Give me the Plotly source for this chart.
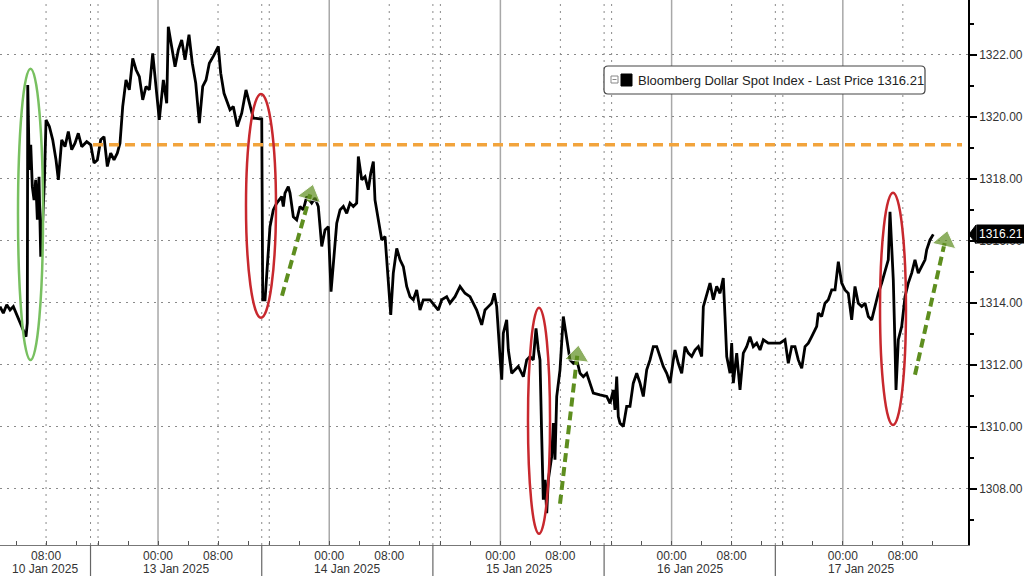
import plotly.graph_objects as go

# ---------------- data ----------------
# (trading-clock hours relative to 13 Jan 00:00, Bloomberg Dollar Spot Index)
bbdxy = [
    (-21.07, 1313.88), (-20.63, 1313.67), (-20.17, 1313.94), (-19.73, 1313.77), (-19.29, 1313.88),
    (-18.84, 1313.61), (-18.40, 1313.35), (-17.87, 1313.07), (-17.60, 1312.91), (-17.43, 1313.35),
    (-17.37, 1321.03), (-17.16, 1318.29), (-16.97, 1319.10), (-16.76, 1317.75), (-16.53, 1317.32),
    (-16.31, 1317.97), (-16.09, 1316.68), (-15.87, 1318.07), (-15.64, 1315.49), (-15.37, 1316.68),
    (-15.16, 1317.86), (-14.93, 1319.90), (-14.49, 1319.69), (-14.04, 1319.26), (-13.60, 1318.61),
    (-13.29, 1317.97), (-12.84, 1319.26), (-12.40, 1319.04), (-11.96, 1319.53), (-11.51, 1318.94),
    (-11.07, 1319.15), (-10.63, 1319.47), (-10.17, 1319.04), (-9.51, 1319.20), (-8.97, 1319.10),
    (-8.53, 1318.51), (-8.09, 1318.61), (-7.64, 1319.26), (-7.20, 1319.36), (-6.76, 1318.40),
    (-6.31, 1318.83), (-5.87, 1318.61), (-5.43, 1318.83), (-5.07, 1319.15), (-4.71, 1320.33),
    (-4.27, 1321.19), (-3.83, 1320.87), (-3.37, 1321.89), (-2.93, 1321.52), (-2.49, 1321.30),
    (-2.04, 1320.55), (-1.60, 1320.98), (-1.16, 1320.87), (-0.71, 1322.05), (-0.27, 1320.98),
    (0.17, 1319.90), (0.71, 1321.19), (1.16, 1320.44), (1.37, 1322.91), (1.83, 1322.27),
    (2.27, 1321.62), (2.71, 1322.16), (3.16, 1322.48), (3.60, 1321.84), (4.13, 1322.65),
    (4.57, 1321.73), (5.03, 1321.09), (5.51, 1319.80), (5.96, 1320.98), (6.40, 1321.19),
    (6.84, 1321.73), (7.37, 1321.95), (8.04, 1322.27), (8.36, 1321.41), (8.80, 1320.76),
    (9.60, 1320.23), (10.04, 1320.33), (10.57, 1319.69), (11.16, 1320.12), (11.73, 1320.87),
    (12.17, 1320.44), (12.71, 1319.96), (13.83, 1319.93), (13.96, 1314.10), (14.27, 1314.10),
    (14.93, 1316.46), (15.37, 1317.00), (15.83, 1317.22), (16.49, 1317.43), (16.71, 1317.11),
    (16.93, 1317.54), (17.37, 1317.75), (17.60, 1317.54), (18.04, 1316.78), (18.49, 1316.68),
    (18.93, 1317.11), (19.37, 1317.00), (19.83, 1317.43), (20.49, 1317.22), (20.93, 1317.38),
    (21.37, 1317.11), (21.83, 1315.82), (22.27, 1316.35), (22.71, 1316.46), (23.07, 1314.36),
    (23.37, 1315.17), (23.83, 1316.57), (24.27, 1317.00), (24.71, 1317.11), (25.16, 1316.89),
    (25.60, 1317.22), (26.04, 1317.11), (26.49, 1317.22), (26.71, 1318.72), (27.16, 1317.97),
    (27.60, 1318.07), (28.04, 1317.65), (28.36, 1318.18), (28.71, 1318.56), (28.93, 1317.32),
    (29.37, 1316.68), (29.83, 1316.03), (30.27, 1316.14), (30.71, 1314.64), (31.03, 1313.61),
    (31.37, 1314.96), (31.83, 1315.76), (32.27, 1315.39), (32.71, 1315.17), (33.16, 1314.53),
    (33.60, 1314.20), (34.04, 1314.10), (34.49, 1314.42), (34.93, 1313.77), (35.37, 1314.10),
    (36.27, 1314.10), (36.93, 1313.88), (37.37, 1313.77), (37.83, 1314.10), (38.49, 1314.20),
    (38.93, 1313.99), (39.60, 1314.20), (40.27, 1314.53), (40.93, 1314.31), (41.60, 1314.20),
    (42.49, 1313.77), (43.16, 1313.29), (43.60, 1313.77), (44.04, 1313.88), (44.49, 1313.99),
    (44.84, 1314.31), (45.16, 1313.88), (45.60, 1312.27), (45.83, 1311.52), (46.04, 1313.02),
    (46.49, 1313.45), (46.71, 1312.48), (47.16, 1311.73), (47.60, 1311.84), (48.04, 1311.95),
    (48.49, 1311.73), (48.71, 1311.62), (49.16, 1312.16), (49.60, 1312.27), (50.04, 1312.16),
    (50.40, 1313.18), (50.71, 1312.48), (50.93, 1312.16), (51.16, 1309.69), (51.37, 1307.65),
    (51.60, 1308.29), (51.83, 1307.22), (52.04, 1308.29), (52.49, 1309.04), (52.71, 1310.12),
    (52.93, 1308.94), (53.16, 1310.98), (53.60, 1311.84), (54.04, 1313.56), (54.49, 1312.81),
    (54.93, 1312.16), (55.37, 1312.05), (55.83, 1312.16), (56.27, 1311.73), (56.71, 1311.62),
    (57.16, 1311.73), (57.60, 1311.41), (58.04, 1311.09), (58.93, 1311.03), (59.83, 1310.98),
    (60.27, 1310.76), (60.71, 1311.19), (60.93, 1310.55), (61.16, 1311.62), (61.37, 1310.33),
    (61.60, 1310.12), (62.04, 1310.01), (62.49, 1310.66), (62.93, 1310.66), (63.37, 1311.41),
    (63.83, 1311.73), (64.27, 1311.41), (64.71, 1310.98), (65.16, 1311.84), (65.60, 1312.16),
    (66.04, 1312.59), (66.49, 1312.59), (66.93, 1312.27), (67.37, 1311.95), (67.83, 1311.73),
    (68.27, 1311.41), (68.71, 1312.16), (68.93, 1312.48), (69.37, 1312.05), (69.83, 1311.73),
    (70.27, 1312.59), (70.71, 1312.38), (71.16, 1312.27), (71.60, 1312.48), (72.04, 1312.59),
    (72.49, 1312.27), (72.71, 1313.88), (73.16, 1314.31), (73.60, 1314.64), (74.04, 1314.10),
    (74.49, 1314.53), (74.93, 1314.31), (75.37, 1314.80), (75.60, 1313.56), (75.83, 1312.27),
    (76.27, 1311.73), (76.49, 1312.70), (76.71, 1311.41), (77.16, 1312.38), (77.60, 1311.19),
    (78.04, 1312.38), (78.49, 1312.59), (78.93, 1312.91), (79.37, 1312.59), (79.83, 1312.70),
    (80.27, 1312.48), (80.71, 1312.81), (81.37, 1312.70), (82.04, 1312.70), (82.93, 1312.70),
    (83.60, 1312.81), (84.04, 1312.05), (84.49, 1312.59), (84.93, 1312.59), (85.37, 1312.16),
    (85.83, 1311.89), (86.27, 1312.59), (86.71, 1312.70), (87.16, 1312.91), (87.83, 1313.24),
    (88.04, 1313.67), (88.49, 1313.56), (88.93, 1313.99), (89.37, 1314.10), (89.83, 1314.42),
    (90.27, 1314.42), (90.71, 1315.33), (91.16, 1314.64), (91.60, 1314.42), (92.04, 1314.31),
    (92.49, 1313.45), (92.93, 1314.53), (93.37, 1313.99), (93.83, 1313.88), (94.27, 1313.99),
    (94.71, 1313.56), (95.16, 1313.45), (95.60, 1313.88), (96.04, 1314.31), (96.49, 1314.64),
    (96.93, 1315.06), (97.37, 1315.39), (97.60, 1316.94), (97.83, 1315.60), (98.04, 1314.74),
    (98.27, 1312.59), (98.40, 1311.19), (98.71, 1312.81), (99.16, 1313.24), (99.60, 1314.20),
    (100.04, 1314.64), (100.49, 1314.96), (100.93, 1315.39), (101.37, 1314.96), (101.83, 1315.17),
    (102.27, 1315.39), (102.49, 1315.71), (102.93, 1316.03), (103.37, 1316.21),
]
session_hours = [h for h, _ in bbdxy]
price = [p for _, p in bbdxy]

series_name = "Bloomberg Dollar Spot Index - Last Price 1316.21"
last_price = 1316.21
ref_level = 1319.10
ref_span = (-8.67, 107.2)

day_labels = ["10 Jan 2025", "13 Jan 2025", "14 Jan 2025", "15 Jan 2025", "16 Jan 2025", "17 Jan 2025"]
midnight_hours = [0.0, 22.83, 45.65, 68.48, 91.31]      # 00:00 of 13..17 Jan
fri_0800 = -14.93                                      # 08:00 on 10 Jan
y_ticks = [1308, 1310, 1312, 1314, 1316, 1318, 1320, 1322]

# highlight decorations (data coords)
ovals = [
    ("#78C060", -18.67, -15.33, 1312.16, 1321.55),
    ("#C8282E", 11.73, 15.73, 1313.52, 1320.74),
    ("#C8282E", 49.33, 52.27, 1306.55, 1313.84),
    ("#C8282E", 96.27, 99.73, 1310.06, 1317.55),
]
arrows = [
    (16.53, 1314.23, 20.30, 1317.50),
    (53.60, 1307.52, 55.90, 1312.30),
    (100.93, 1311.68, 104.95, 1316.00),
]

FONT = "Liberation Sans, Arial, sans-serif"
X_RANGE = [-21.07, 108.0]
Y_RANGE = [1306.19, 1323.77]
PLOT_W, PLOT_H = 968, 545

# ---------------- figure ----------------
fig = go.Figure()

fig.add_trace(go.Scatter(x=session_hours, y=price, mode="lines",
                         line=dict(color="black", width=2.8), showlegend=False,
                         name=series_name))

fig.add_trace(go.Scatter(x=list(ref_span), y=[ref_level, ref_level], mode="lines",
                         line=dict(color="#F2A43C", width=3.5, dash="10px,6px"),
                         showlegend=False, hoverinfo="skip"))

for x0, y0, x1, y1 in arrows:
    fig.add_trace(go.Scatter(x=[x0, x1], y=[y0, y1], mode="lines+markers",
                             line=dict(color="#5E8E1F", width=4, dash="9px,5px"),
                             marker=dict(symbol=["circle", "triangle-up"], size=[10, 21],
                                         color="#5E8E1F", angleref="previous"),
                             showlegend=False, hoverinfo="skip"))

shapes = []
# vertical grid lines
boundaries = [m - 9.0 for m in midnight_hours]
dotted_x = [fri_0800] + [m + 8 for m in midnight_hours] + boundaries + [m - 8 for m in midnight_hours]
for xv in dotted_x:
    shapes.append(dict(type="line", xref="x", yref="paper", x0=xv, x1=xv, y0=0, y1=1,
                       line=dict(color="#8a8a8a", width=1, dash="2px,5px"), layer="below"))
for xv in midnight_hours:
    shapes.append(dict(type="line", xref="x", yref="paper", x0=xv, x1=xv, y0=0, y1=1,
                       line=dict(color="#a8a8a8", width=1.5), layer="below"))
# day separators in the axis band
for xv in boundaries:
    shapes.append(dict(type="line", xref="x", yref="paper", x0=xv, x1=xv, y0=0, y1=-31 / PLOT_H,
                       line=dict(color="#666666", width=1.2)))
# highlight ovals
for col, x0, x1, y0, y1 in ovals:
    shapes.append(dict(type="circle", xref="x", yref="y", x0=x0, x1=x1, y0=y0, y1=y1,
                       line=dict(color=col, width=2.5), layer="above"))
# last-price tag pointer
dy = 0.3
shapes.append(dict(type="path", xref="paper", yref="y",
                   path=f"M 1.001 {last_price} L {1 + 8 / PLOT_W} {last_price + dy} "
                        f"L {1 + 8 / PLOT_W} {last_price - dy} Z",
                   fillcolor="black", line=dict(color="black", width=1)))


# legend box (rounded)
def px(xp):
    return xp / PLOT_W


def py(yp):
    return 1 - yp / PLOT_H


def rounded(x0, y0, x1, y1, r=4):
    rx, ry = r / PLOT_W, r / PLOT_H
    X0, X1, Y0, Y1 = px(x0), px(x1), py(y1), py(y0)
    return (f"M {X0 + rx} {Y0} L {X1 - rx} {Y0} Q {X1} {Y0} {X1} {Y0 + ry} "
            f"L {X1} {Y1 - ry} Q {X1} {Y1} {X1 - rx} {Y1} L {X0 + rx} {Y1} "
            f"Q {X0} {Y1} {X0} {Y1 - ry} L {X0} {Y0 + ry} Q {X0} {Y0} {X0 + rx} {Y0} Z")


shapes.append(dict(type="path", xref="paper", yref="paper", path=rounded(604, 66, 925, 94),
                   fillcolor="white", line=dict(color="#444444", width=1.2)))
shapes.append(dict(type="rect", xref="paper", yref="paper", x0=px(611), x1=px(618),
                   y0=py(83), y1=py(76), fillcolor="white", line=dict(color="#888888", width=1)))
shapes.append(dict(type="line", xref="paper", yref="paper", x0=px(612.5), x1=px(616.5),
                   y0=py(79.5), y1=py(79.5), line=dict(color="#888888", width=1)))
shapes.append(dict(type="rect", xref="paper", yref="paper", x0=px(621), x1=px(632),
                   y0=py(86), y1=py(74), fillcolor="black", line=dict(color="black", width=1)))

annotations = []
annotations.append(dict(xref="paper", yref="paper", x=px(636), y=py(80), xanchor="left",
                        yanchor="middle", showarrow=False, text=series_name,
                        font=dict(family=FONT, size=13, color="#222222")))
annotations.append(dict(xref="paper", yref="y", x=1, y=last_price, xanchor="left", yanchor="middle",
                        xshift=8, showarrow=False, text=f"{last_price:.2f}", bgcolor="black",
                        borderpad=2, font=dict(family=FONT, size=12, color="white")))
# date labels
centers = [(X_RANGE[0] + boundaries[0]) / 2] + [m + 2.42 for m in midnight_hours]
for lbl, cx in zip(day_labels, centers):
    annotations.append(dict(xref="x", yref="paper", x=cx, y=-24 / PLOT_H, xanchor="center",
                            yanchor="middle", showarrow=False, text=lbl,
                            font=dict(family=FONT, size=12, color="#333333")))

# x ticks every 4 hours, labels at 00:00 and 08:00
tickvals = [fri_0800 - 4, fri_0800, fri_0800 + 4]
ticktext = ["", "08:00", ""]
for m in midnight_hours:
    for off, lab in [(-8, ""), (-4, ""), (0, "00:00"), (4, ""), (8, "08:00"), (12, "")]:
        tickvals.append(m + off)
        ticktext.append(lab)

fig.update_layout(
    width=1024, height=576,
    margin=dict(l=0, r=56, t=0, b=31),
    paper_bgcolor="white", plot_bgcolor="white",
    shapes=shapes, annotations=annotations,
    font=dict(family=FONT, size=12, color="#333333"),
    xaxis=dict(range=X_RANGE, tickmode="array", tickvals=tickvals, ticktext=ticktext,
               ticks="inside", ticklen=4, tickcolor="#555555", showgrid=False, zeroline=False,
               showline=True, linecolor="#777777", linewidth=1,
               tickfont=dict(family=FONT, size=12, color="#333333"), fixedrange=True),
    yaxis=dict(side="right", range=Y_RANGE, tickmode="array", tickvals=y_ticks,
               ticktext=[f"{v:.2f}" for v in y_ticks], ticks="outside", ticklen=7, tickwidth=2,
               tickcolor="black", showline=True, linecolor="black", linewidth=1.5,
               showgrid=True, gridcolor="#8a8a8a", griddash="2px,5px", gridwidth=1,
               zeroline=False, tickfont=dict(family=FONT, size=12, color="#333333"),
               minor=dict(dtick=1, tick0=1307, ticks="outside", ticklen=4, tickcolor="black",
                          showgrid=False),
               fixedrange=True),
    showlegend=False,
)

fig.write_html("out.html", config={"displayModeBar": False},
               post_script="document.body.style.margin='0px';document.body.style.padding='0px';")
